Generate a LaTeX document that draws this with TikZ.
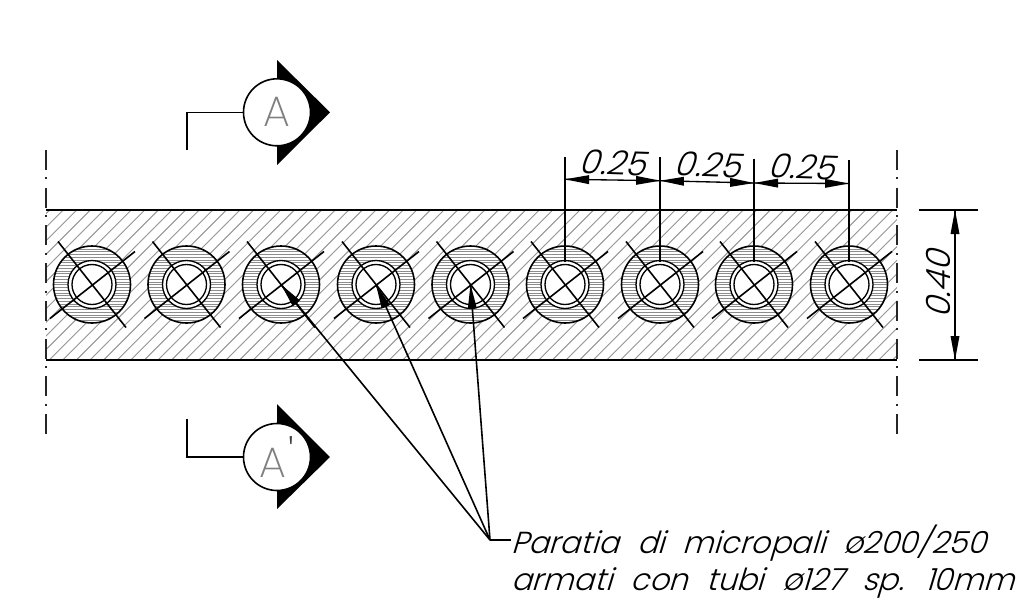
\documentclass[tikz,border=0pt]{standalone}
\usepackage{fontspec}
\usetikzlibrary{calc}
\setmainfont{Poppins Light}[FakeSlant=0.3,WordSpace=2.2]
\newfontfamily\markfont{Poppins ExtraLight}
\begin{document}
\begin{tikzpicture}[x=0.75pt,y=-0.75pt,line cap=butt,
  wallline/.style={line width=1.2pt,black},
  hatchline/.style={line width=0.7pt,black!42},
  ringhatch/.style={line width=0.3pt,black!45},
  thick line/.style={line width=1.2pt,black},
  pileouter/.style={circle,draw,line width=1.2pt,minimum size=77*0.75pt,inner sep=0pt},
  piletube/.style={circle,draw,fill=white,line width=1pt,minimum size=48*0.75pt,inner sep=0pt},
  pilecore/.style={circle,draw,fill=white,line width=1pt,minimum size=40*0.75pt,inner sep=0pt},
  markcircle/.style={circle,draw,fill=white,line width=1.2pt,minimum size=67*0.75pt,inner sep=0pt,text=black!50,font=\markfont\fontsize{32}{32}\selectfont},
  centerline/.style={line width=1.05pt,black!85,dash pattern=on 15pt off 5.6pt on 1.5pt off 6.2pt},
  dimtext/.style={inner sep=0pt,font=\fontsize{25}{25}\selectfont},
  notetext/.style={inner sep=0pt,anchor=base west,font=\fontsize{22.8}{22.8}\selectfont}
]
\useasboundingbox (0,0) rectangle (1033,604);
% wall hatching
\begin{scope}
  \clip (46,210) rectangle (897,360);
  \foreach \i in {0,...,80}{
    \draw[hatchline] ({46+13.6*\i-160},360) -- ++(150,-150);
  }
\end{scope}
\draw[wallline] (46,210) -- (897,210) (46,360) -- (897,360);
\draw[centerline] (46,150) -- (46,434);
\draw[centerline] (897,150) -- (897,434);
% piles
\foreach \n/\x in {1/92,2/186.5,3/281,4/376,5/470.5,6/565,7/660,8/754,9/849}{
  \coordinate (c\n) at (\x,284.5);
  \begin{scope}
    \clip (c\n) circle (38.5);
    \fill[white] (c\n) circle (38.5);
    \foreach \k in {-14,...,14}{
      \draw[ringhatch] ($(c\n)+(-40,\k*2.75)$) -- ++(80,0);
    }
  \end{scope}
  \node[pileouter] (o\n) at (c\n) {};
  \node[piletube] (t\n) at (c\n) {};
  \node[pilecore] (k\n) at (c\n) {};
  \draw[thick line] ($(c\n)+(-34,-43)$) -- ($(c\n)+(34,43)$);
  \draw[thick line] ($(c\n)+(-42,34)$) -- ($(c\n)+(43,-33)$);
}
% section marks
\coordinate (ma) at (277,112.3);
\coordinate (mb) at (277,457);
\fill (277,60) -- (330,112.3) -- (277,165) -- cycle;
\fill (277,404) -- (330,457) -- (277,509) -- cycle;
\node[markcircle] (A) at (ma) {A};
\node[markcircle] (B) at (mb) {A\kern2pt\raisebox{5pt}{\color{black!75}'}};
\coordinate (a1) at (187,112.3);
\coordinate (a2) at (187,150);
\coordinate (b1) at (187,457);
\coordinate (b2) at (187,419);
\draw[line width=1.2pt] (A.west) -- (a1) -- (a2);
\draw[line width=1.2pt] (B.west) -- (b1) -- (b2);
% dimensions
\foreach \n/\y in {6/157,7/157,8/158.5,9/160}{
  \coordinate (e\n) at ($(c\n)+(0,-284.5+\y)$);
  \draw[line width=1.2pt] (e\n) -- ($(c\n)+(0,-22.5)$);
}
\coordinate (d6) at (565,179.3);
\coordinate (d7) at (660,180.7);
\coordinate (d8) at (754,183);
\coordinate (d9) at (849,183.5);
\foreach \p/\q in {d6/d7,d7/d8,d8/d9}{
  \draw[line width=1pt] (\p) -- (\q);
  \fill (\p) -- ($(\p)!18pt!(\q)+(0,-4.5)$) -- ($(\p)!18pt!(\q)+(0,4.5)$) -- cycle;
  \fill (\q) -- ($(\q)!18pt!(\p)+(0,-4.5)$) -- ($(\q)!18pt!(\p)+(0,4.5)$) -- cycle;
}
\node[dimtext,rotate=-2] (t1) at (612,163) {0.25};
\node[dimtext,rotate=-2] (t2) at (707,165) {0.25};
\node[dimtext,rotate=-2] (t3) at (801,167) {0.25};
% vertical dim
\coordinate (h1) at (919,210);
\coordinate (h2) at (978,210);
\coordinate (l1) at (919,360);
\coordinate (l2) at (978,360);
\coordinate (vt) at (955,210);
\coordinate (vb) at (955,360);
\draw[wallline] (h1) -- (h2) (l1) -- (l2);
\draw[line width=1pt] (vt) -- (vb);
\fill (vt) -- (950.5,234) -- (959.5,234) -- cycle;
\fill (vb) -- (950.5,336) -- (959.5,336) -- cycle;
\node[dimtext,rotate=90] (t4) at (938,285) {0.40};
% leader
\coordinate (v) at (490,540);
\coordinate (w) at (511,540);
\draw[line width=1.2pt] (w) -- (v);
\foreach \n in {3,4,5}{
  \draw[line width=1.2pt] (v) -- (c\n);
  \coordinate (q) at ($(c\n)!18pt!(v)$);
  \fill (c\n) -- ($(q)!3.4pt!90:(v)$) -- ($(q)!3.4pt!-90:(v)$) -- cycle;
}
\node[notetext] (n1) at (511,553) {Paratia di micropali ø200/250};
\node[notetext] (n2) at (511,590) {armati con tubi ø127 sp. 10mm};
\end{tikzpicture}
\end{document}
